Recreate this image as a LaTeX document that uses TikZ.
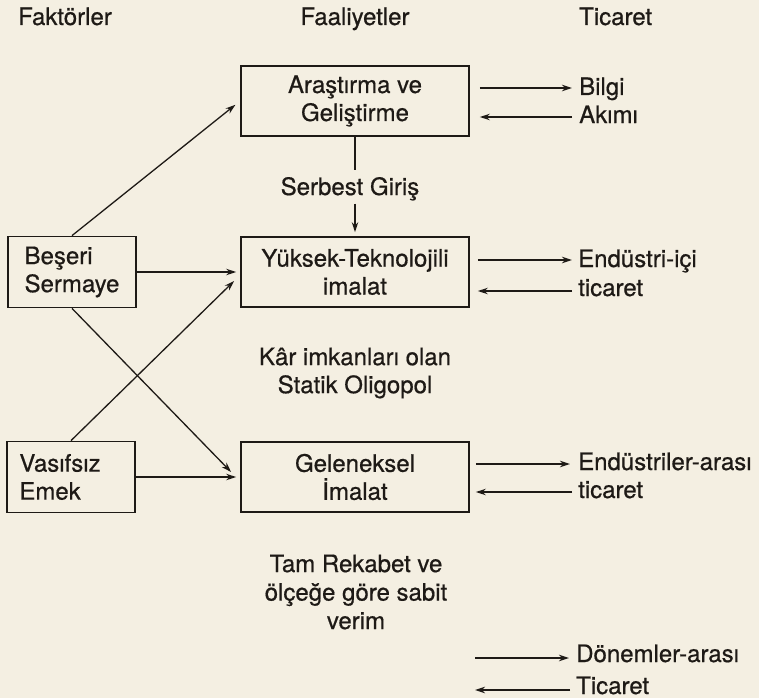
\documentclass[tikz,border=0pt]{standalone}
\usepackage{fontspec}
\setmainfont[FakeBold=0.6]{TeX Gyre Heros}
\usetikzlibrary{arrows.meta,calc}
\definecolor{paper}{RGB}{244,239,226}
\definecolor{ink}{RGB}{30,26,22}
\begin{document}
\begin{tikzpicture}[x=1pt,y=-1pt,
  every node/.style={text=ink, font=\fontsize{24}{28}\selectfont},
  box/.style={draw=ink, line width=1.8pt, minimum width=228pt, minimum height=70pt, align=center, inner sep=0pt},
  fbox/.style={draw=ink, line width=1.8pt, minimum width=128pt, minimum height=71pt, align=left, inner sep=0pt},
  lbl/.style={inner sep=0pt, anchor=base west},
  txt/.style={inner sep=0pt, align=center},
  arr/.style={draw=ink, line width=1.3pt, -{Stealth[length=10pt,width=6.5pt]}},
  ln/.style={draw=ink, line width=1.3pt}
]
\fill[paper] (0,0) rectangle (759,698);
\useasboundingbox (0,0) rectangle (759,698);

% headers
\node[lbl] (h1) at (18,25) {Faktörler};
\node[txt, anchor=base] (h2) at (355,25) {Faaliyetler};
\node[lbl] (h3) at (579,25) {Ticaret};

% boxes
\node[box] (rd) at (355,101) {Araştırma ve\\Geliştirme};
\node[box] (hi) at (355,272) {Yüksek-Teknolojili\\imalat};
\node[box] (tr) at (355,477) {Geleneksel\\İmalat};
\node[fbox] (hc) at (72,272) {Beşeri\\Sermaye};
\node[fbox] (ul) at (71,477) {Vasıfsız\hspace*{22pt}\\Emek};

% middle texts
\node[txt, anchor=base] (sg) at (350,195) {Serbest Giriş};
\node[txt] (kr) at (355,373) {Kâr imkanları olan\\Statik Oligopol};
\node[txt, font=\fontsize{24}{28.5}\selectfont] (tm) at (356,592) {Tam Rekabet ve\\ölçeğe göre sabit\\verim};

% right labels
\node[lbl] (b1) at (579,95) {Bilgi};
\node[lbl] (b2) at (579,123) {Akımı};
\node[lbl] (e1) at (578,267) {Endüstri-içi};
\node[lbl] (e2) at (578,296) {ticaret};
\node[lbl] (g1) at (578,470) {Endüstriler-arası};
\node[lbl] (g2) at (578,498) {ticaret};
\node[lbl] (d1) at (576,662) {Dönemler-arası};
\node[lbl] (d2) at (576,694) {Ticaret};
\coordinate (d1s) at (475,658);
\coordinate (d2e) at (475,690);

% trade arrows
\draw[arr] ($(rd.east|-b1.base)+(10,-7)$) -- ($(b1.base west)+(-7,-7)$);
\draw[arr] ($(b2.base west)+(-7,-6)$) -- ($(rd.east|-b2.base)+(10,-6)$);
\draw[arr] ($(hi.east|-e1.base)+(8,-7)$) -- ($(e1.base west)+(-6,-7)$);
\draw[arr] ($(e2.base west)+(-6,-5)$) -- ($(hi.east|-e2.base)+(8,-5)$);
\draw[arr] ($(tr.east|-g1.base)+(6,-6)$) -- ($(g1.base west)+(-8,-6)$);
\draw[arr] ($(g2.base west)+(-6,-6)$) -- ($(tr.east|-g2.base)+(6,-6)$);
\draw[arr] (d1s) -- ($(d1s -| d1.west)+(-7,0)$);
\draw[arr] ($(d2e -| d2.west)+(-6,0)$) -- (d2e);

% free entry
\draw[ln] (rd.south) -- ($(rd.south |- sg.north)+(0,-7)$);
\draw[arr] ($(rd.south |- sg.south)+(0,3)$) -- ($(hi.north)+(0,-4)$);

% factor arrows
\draw[arr, shorten >=6pt] (hc.north) -- (rd.west);
\draw[arr] (hc.east) -- ($(hi.west)+(-4,0)$);
\draw[arr] (hc.south) -- ($(tr.west)+(-9,-5)$);
\draw[arr] (ul.north) -- ($(hi.west)+(-6,9)$);
\draw[arr] (ul.east) -- ($(tr.west)+(-4,0)$);
\end{tikzpicture}
\end{document}
